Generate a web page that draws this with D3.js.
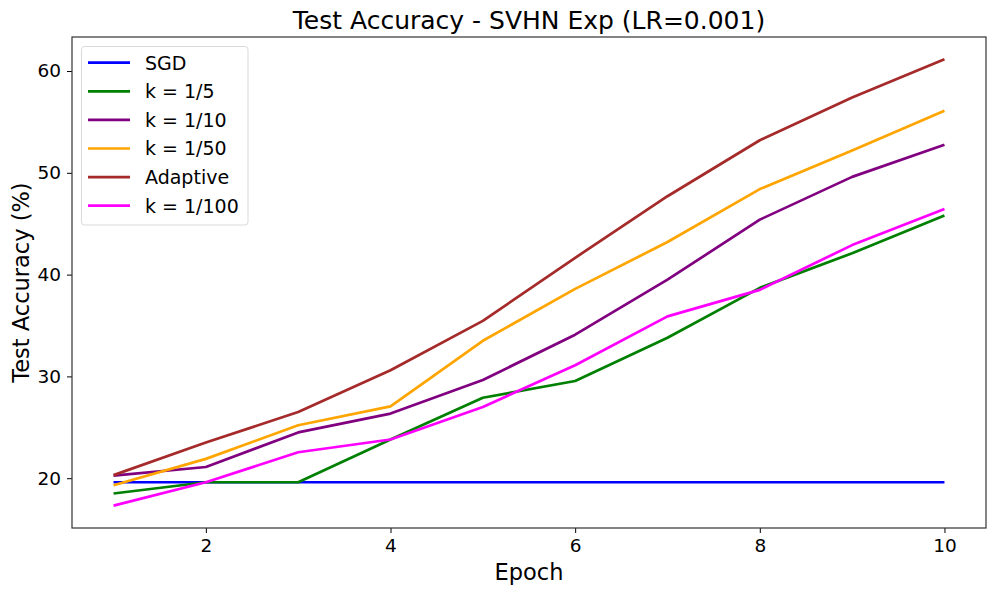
<!DOCTYPE html>
<html>
<head>
<meta charset="utf-8">
<script src="https://cdn.jsdelivr.net/npm/d3@7"></script>
<style>
  body { margin: 0; background: #fff; }
  svg { display: block; font-family: "DejaVu Sans", sans-serif; }
</style>
</head>
<body>
<svg id="chart" width="996" height="594"></svg>
<script>
const epochs = [1, 2, 3, 4, 5, 6, 7, 8, 9, 10];
const sgd = [19.6, 19.6, 19.6, 19.6, 19.6, 19.6, 19.6, 19.6, 19.6, 19.6];
const k5 = [18.5, 19.6, 19.6, 23.8, 27.9, 29.55, 33.8, 38.7, 42.1, 45.8];
const k10 = [20.25, 21.1, 24.5, 26.35, 29.65, 34.1, 39.5, 45.4, 49.6, 52.75];
const k50 = [19.3, 21.9, 25.2, 27.05, 33.5, 38.6, 43.2, 48.4, 52.2, 56.1];
const adaptive = [20.3, 23.5, 26.5, 30.6, 35.45, 41.65, 47.7, 53.2, 57.4, 61.15];
const k100 = [17.3, 19.6, 22.55, 23.8, 27.0, 31.1, 35.9, 38.5, 42.9, 46.45];
const seriesNames = ["SGD", "k = 1/5", "k = 1/10", "k = 1/50", "Adaptive", "k = 1/100"];
const seriesColors = ["#0000ff", "#008000", "#800080", "#ffa500", "#a52a2a", "#ff00ff"];
const seriesValues = [sgd, k5, k10, k50, adaptive, k100];
const xTicks = [2, 4, 6, 8, 10];
const yTicks = [20, 30, 40, 50, 60];

(function () {
const svg = d3.select("#chart");
const mLeft = 72, mRight = 986, mTop = 37, mBottom = 528;

const allVals = seriesValues.flat();
const ymin = d3.min(allVals), ymax = d3.max(allVals);
const ypad = (ymax - ymin) * 0.05;
const x = d3.scaleLinear().domain([1 - 0.45, 10 + 0.45]).range([mLeft, mRight]);
const y = d3.scaleLinear().domain([ymin - ypad, ymax + ypad]).range([mBottom, mTop]);

const xAxis = svg.append("g").attr("transform", `translate(0,${mBottom})`)
  .call(d3.axisBottom(x).tickValues(xTicks).tickSize(5).tickPadding(6).tickFormat(d3.format("d")));
const yAxis = svg.append("g").attr("transform", `translate(${mLeft},0)`)
  .call(d3.axisLeft(y).tickValues(yTicks).tickSize(5).tickPadding(6).tickFormat(d3.format("d")));
[xAxis, yAxis].forEach(a => {
  a.select(".domain").remove();
  a.selectAll("text").attr("font-size", 18.5).attr("fill", "#000").attr("font-family", "DejaVu Sans, sans-serif");
  a.selectAll("line").attr("stroke", "#000").attr("stroke-width", 1);
});

const line = d3.line().x((d, i) => x(epochs[i])).y(d => y(d));
seriesValues.forEach((vals, i) => {
  svg.append("path").datum(vals)
    .attr("fill", "none")
    .attr("stroke", seriesColors[i])
    .attr("stroke-width", 2.7)
    .attr("stroke-linejoin", "round")
    .attr("d", line);
});

svg.append("rect").attr("x", mLeft).attr("y", mTop)
  .attr("width", mRight - mLeft).attr("height", mBottom - mTop)
  .attr("fill", "none").attr("stroke", "#333").attr("stroke-width", 1.2);

svg.append("text").attr("x", (mLeft + mRight) / 2).attr("y", 29)
  .attr("text-anchor", "middle").attr("font-size", 25).attr("fill", "#000")
  .text("Test Accuracy - SVHN Exp (LR=0.001)");
svg.append("text").attr("x", (mLeft + mRight) / 2).attr("y", 580)
  .attr("text-anchor", "middle").attr("font-size", 22.5).attr("fill", "#000")
  .text("Epoch");
svg.append("text").attr("transform", `translate(29,${(mTop + mBottom) / 2}) rotate(-90)`)
  .attr("text-anchor", "middle").attr("font-size", 22.5).attr("fill", "#000")
  .text("Test Accuracy (%)");

const lg = svg.append("g");
lg.append("rect").attr("x", 81.5).attr("y", 46.5).attr("width", 166.5).attr("height", 178.5)
  .attr("rx", 3).attr("fill", "#fff").attr("fill-opacity", 0.8)
  .attr("stroke", "#d9d9d9").attr("stroke-width", 1);
seriesNames.forEach((name, i) => {
  const yy = 62.7 + i * 28.6;
  lg.append("line").attr("x1", 88).attr("x2", 130).attr("y1", yy).attr("y2", yy)
    .attr("stroke", seriesColors[i]).attr("stroke-width", 2.7);
  lg.append("text").attr("x", 145).attr("y", yy).attr("dy", "0.36em")
    .attr("font-size", 19).attr("fill", "#000").text(name);
});
})();
</script>
</body>
</html>
